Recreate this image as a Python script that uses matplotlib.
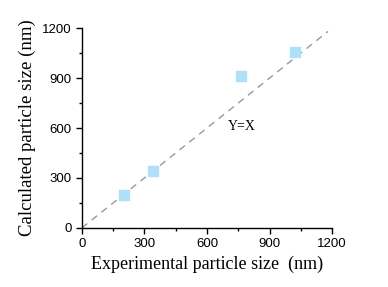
import matplotlib
matplotlib.use("Agg")
import matplotlib.pyplot as plt
from matplotlib.ticker import MultipleLocator

# ==== data ====
exp_size = [200, 340, 762, 1022]      # experimental particle size (nm)
calc_size = [195, 340, 910, 1055]     # calculated particle size (nm)
line_x = [0, 1180]                    # Y=X reference line
line_y = [0, 1180]

fig = plt.figure(figsize=(3.88, 2.87), dpi=100)
ax = fig.add_axes([0.211, 0.206, 0.645, 0.696])

ax.plot(line_x, line_y, color='#999999', linestyle=(0, (5, 4)), linewidth=1.0)
ax.scatter(exp_size, calc_size, marker='s', s=50, color='#aee0f8', zorder=3)
ax.text(700, 612, 'Y=X', fontsize=10, family='Liberation Serif', ha='left', va='center')

ax.set_xlim(0, 1200)
ax.set_ylim(0, 1200)
ax.xaxis.set_major_locator(MultipleLocator(300))
ax.yaxis.set_major_locator(MultipleLocator(300))
ax.xaxis.set_minor_locator(MultipleLocator(150))
ax.yaxis.set_minor_locator(MultipleLocator(150))
ax.tick_params(which='major', direction='out', length=4, width=1, labelsize=9.5)
ax.tick_params(which='minor', direction='out', length=2.5, width=1)
for lab in ax.get_xticklabels() + ax.get_yticklabels():
    lab.set_family('Liberation Sans')

ax.spines['top'].set_visible(False)
ax.spines['right'].set_visible(False)
ax.spines['left'].set_linewidth(1)
ax.spines['bottom'].set_linewidth(1)

ax.set_xlabel('Experimental particle size  (nm)', fontsize=13, family='Liberation Serif', labelpad=4)
ax.set_ylabel('Calculated particle size (nm)', fontsize=13.5, family='Liberation Serif', labelpad=4)

plt.savefig('out.png', dpi=100)
